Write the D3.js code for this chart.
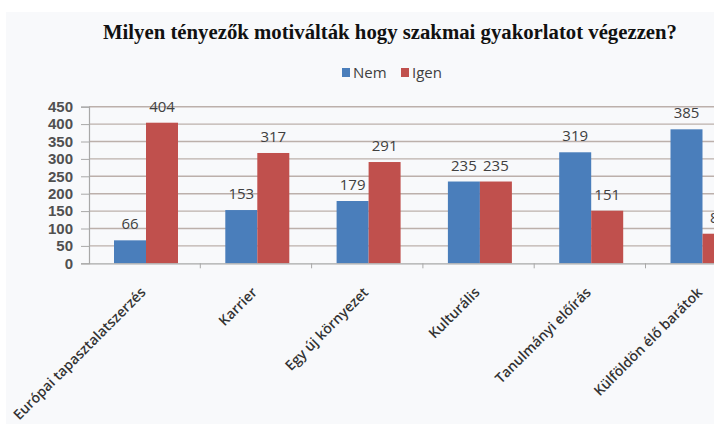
<!DOCTYPE html>
<html><head><meta charset="utf-8">
<script src="https://cdn.jsdelivr.net/npm/d3@7"></script>
<style>
html,body{margin:0;padding:0;background:#fff;}
svg{display:block;}
</style></head>
<body>
<svg id="chart" width="714" height="424"></svg>
<script>
const title = "Milyen tényezők motiválták hogy szakmai gyakorlatot végezzen?";
const categories = ["Európai tapasztalatszerzés","Karrier","Egy új környezet","Kulturális","Tanulmányi előírás","Külföldön élő barátok"];
const seriesNames = ["Nem","Igen"];
const nemValues = [66,153,179,235,319,385];
const igenValues = [404,317,291,235,151,85];
const yTicks = [0,50,100,150,200,250,300,350,400,450];
const colors = ["#4a7ebb","#c0504d"];

const svg = d3.select("#chart");
svg.append("rect").attr("x",6).attr("y",12).attr("width",708).attr("height",412).attr("fill","#f8f9fb");

const plotLeft = 89, plotBottom = 263.3, plotTop = 106.7;
const step = 111.3;
const x0 = d3.scaleBand().domain(categories).range([plotLeft, plotLeft + step*categories.length]).padding(0);
const x1 = d3.scaleBand().domain(seriesNames).range([25, 89]).padding(0);
const y = d3.scaleLinear().domain([0,450]).range([plotBottom, plotTop]);

// gridlines
svg.append("g").selectAll("line").data(yTicks.filter(d=>d>0)).join("line")
  .attr("x1", plotLeft).attr("x2", 714)
  .attr("y1", d=>y(d)).attr("y2", d=>y(d))
  .attr("stroke","#bcb0ab").attr("stroke-width",1.4);

// y axis
const yAxis = d3.axisLeft(y).tickValues(yTicks).tickSize(8).tickPadding(8);
const ga = svg.append("g").attr("transform",`translate(${plotLeft},0)`).call(yAxis);
ga.select(".domain").attr("stroke","#a8a8a8").attr("stroke-width",1.2);
ga.selectAll(".tick line").attr("stroke","#a8a8a8");
ga.selectAll(".tick text").attr("font-family","Liberation Sans, Arial, sans-serif").attr("font-size",15)
  .attr("font-weight",700).attr("fill","#505050");

// bars
const data = categories.map((c,i)=>({cat:c, vals:[nemValues[i], igenValues[i]]}));
const groups = svg.append("g").selectAll("g").data(data).join("g")
  .attr("transform", d=>`translate(${x0(d.cat)},0)`);
groups.selectAll("rect").data(d=>d.vals.map((v,j)=>({key:seriesNames[j], v, j}))).join("rect")
  .attr("x", d=>x1(d.key)).attr("width", x1.bandwidth())
  .attr("y", d=>y(d.v)).attr("height", d=>plotBottom - y(d.v))
  .attr("fill", d=>colors[d.j]);
groups.selectAll("text").data(d=>d.vals.map((v,j)=>({key:seriesNames[j], v, j}))).join("text")
  .attr("x", d=>x1(d.key)+x1.bandwidth()/2).attr("y", d=>y(d.v)-11)
  .attr("text-anchor","middle").attr("font-family","Open Sans, sans-serif").attr("font-size",15)
  .attr("fill","#404040").text(d=>d.v);

// x axis
const xAxis = d3.axisBottom(x0).tickSize(0).tickFormat("");
const gx = svg.append("g").attr("transform",`translate(0,${plotBottom})`).call(xAxis);
gx.select(".domain").attr("stroke","#a8a8a8").attr("stroke-width",1.2);
svg.append("g").selectAll("line").data(categories.slice(1)).join("line")
  .attr("x1", d=>x0(d)).attr("x2", d=>x0(d)).attr("y1", plotBottom).attr("y2", plotBottom+5)
  .attr("stroke","#a8a8a8");
svg.append("g").selectAll("text").data(categories).join("text")
  .attr("transform", d=>`translate(${x0(d)+x0.bandwidth()/2+2},${plotBottom+30}) rotate(-45)`)
  .attr("text-anchor","end").attr("font-family","Open Sans, sans-serif").attr("font-size",14)
  .attr("font-weight",600).attr("fill","#333").text(d=>d);

// title
svg.append("text").attr("x",390).attr("y",39).attr("text-anchor","middle")
  .attr("font-family","Liberation Serif, serif").attr("font-weight",700).attr("font-size",20)
  .attr("textLength",574).attr("lengthAdjust","spacingAndGlyphs")
  .attr("fill","#111").text(title);

// legend
const legX = [342, 401];
const lg = svg.append("g").selectAll("g").data(seriesNames).join("g")
  .attr("transform",(d,i)=>`translate(${legX[i]},68)`);
lg.append("rect").attr("width",8).attr("height",9).attr("fill",(d,i)=>colors[i]);
lg.append("text").attr("x",11).attr("y",9.5).attr("font-family","Open Sans, sans-serif")
  .attr("font-size",15).attr("fill","#404040").text(d=>d);
</script>
</body></html>
